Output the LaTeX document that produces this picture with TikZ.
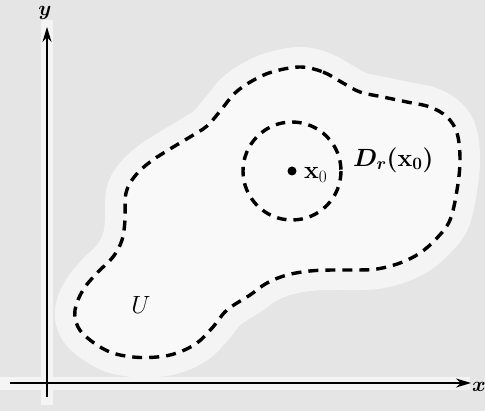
\documentclass[tikz,border=0pt]{standalone}
\usepackage{amsmath,bm}
\usetikzlibrary{arrows.meta}
\definecolor{bggray}{gray}{0.90}
\definecolor{halo}{gray}{0.955}
\definecolor{inside}{gray}{0.975}
\tikzset{
  boundary/.style={line width=3.4pt, dash pattern=on 10pt off 7pt, line cap=butt},
  axis/.style={line width=1.7pt, -{Stealth[length=15pt,width=9pt]}},
  lbl/.style={font=\fontsize{23}{25}\selectfont, inner sep=1pt},
  axlbl/.style={font=\fontsize{22}{24}\selectfont, inner sep=1pt},
}
\begin{document}
\begin{tikzpicture}[x=1pt,y=-1pt]
\useasboundingbox (0,0) rectangle (485,411);
\fill[bggray] (0,0) rectangle (485,411);
\def\regionpath{plot[smooth cycle, tension=0.6] coordinates {
 (300,67) (323,72) (343,83) (360,92) (383,97) (407,102) (430,107) (447,117) (457,133)
 (460,160) (457,190) (450,220) (437,238) (420,253) (400,263) (377,269) (357,270)
 (333,270) (310,271) (287,275) (267,283) (250,295) (227,310) (213,327) (197,343)
 (177,353) (157,357) (133,357) (110,352) (90,340) (78,327) (75,310) (83,290)
 (97,273) (113,257) (122,240) (125,220) (126,193) (135,176) (150,162) (170,149)
 (190,137) (207,126) (221,110) (235,93) (252,81) (272,72)}}
% halo and inside
\draw[halo, line width=40pt, line join=round, fill=halo] \regionpath;
\fill[inside] \regionpath;
% axes halos
\fill[halo] (41,20) rectangle (53,405);
\fill[halo] (0,377) rectangle (470,390);
% region boundary
\draw[boundary] \regionpath;
% disk
\coordinate (c) at (292,171);
\draw[boundary, dash pattern=on 9.5pt off 7pt] (c) circle (49);
\fill (c) circle (4.5);
\node[lbl, anchor=west] (xo) at (303,175) {$\bm{\mathrm{x}}_0$};
\node[lbl, anchor=west] (dr) at (352,160) {$\bm{D_r(\mathrm{x}_0)}$};
\node[lbl] (u) at (141,305) {$U$};
% axes
\coordinate (yb) at (47,397);
\coordinate (yt) at (47,27);
\coordinate (xl) at (10,383);
\coordinate (xr) at (471,383);
\draw[axis] (yb) -- (yt);
\draw[axis] (xl) -- (xr);
\node[axlbl] (ylab) at (45,13) {$\bm{y}$};
\node[axlbl] (xlab) at (479,387) {$\bm{x}$};
\end{tikzpicture}
\end{document}
